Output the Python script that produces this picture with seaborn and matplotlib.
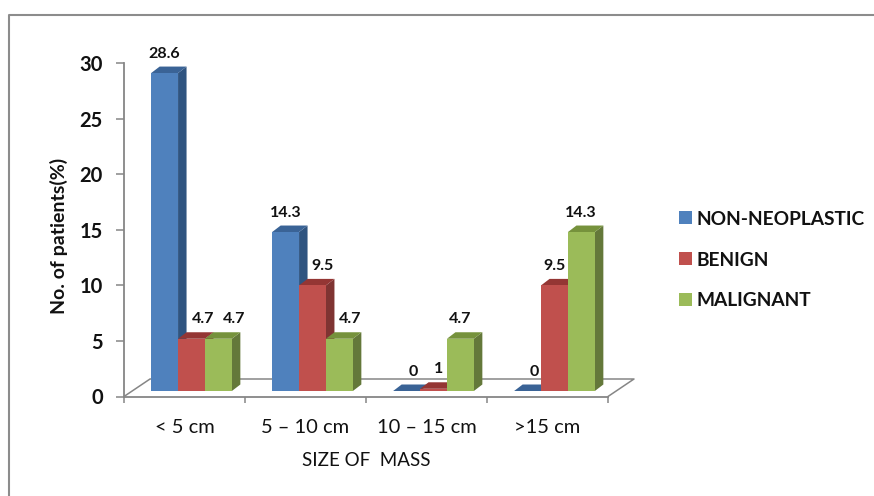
import matplotlib
matplotlib.use('Agg')
import matplotlib.pyplot as plt
from matplotlib.lines import Line2D
from matplotlib.patches import Polygon
import numpy as np
import pandas as pd
import seaborn as sns

sizes = ['< 5 cm', '5 – 10 cm', '10 – 15 cm', '>15 cm']
series = ['NON-NEOPLASTIC', 'BENIGN', 'MALIGNANT']
non_neoplastic = [28.6, 14.3, 0, 0]
benign = [4.7, 9.5, 0.2, 9.5]  # the 10-15 bar is drawn much lower than its label
malignant = [4.7, 4.7, 4.7, 14.3]
non_neoplastic_labels = ['28.6', '14.3', '0', '0']
benign_labels = ['4.7', '9.5', '1', '9.5']
malignant_labels = ['4.7', '4.7', '4.7', '14.3']

front = ['#4F81BD', '#C0504D', '#9BBB59']
side = ['#2F5480', '#7F3432', '#64783A']
top = ['#3A6396', '#943634', '#76923C']
gray = '#868686'

W, H = 874, 496
L, R, B, T = 124, 608, 396.5, 63  # axes box in pixels
px_x = (R - L) / 4
px_y = (B - T) / 30
shift = 7 / px_x  # bars sit on the floor, a bit behind the axis
base = 5.5 / px_y
depth_x = 8.5 / px_x
depth_y = 6.5 / px_y
floor_x = 26 / px_x
floor_y = 17.5 / px_y

# sideways nudge of each label in pixels, same order as the series
label_nudge = [[0, 0, 7, 7], [12, 10, 5, 0], [16, 11, 0, -1]]

df = pd.DataFrame({
    'size': sizes * 3,
    'type': np.repeat(series, 4),
    'pct': non_neoplastic + benign + malignant,
})

sns.set_theme(style='white')
plt.rcParams['font.family'] = ['Lato', 'DejaVu Sans']

fig = plt.figure(figsize=(W / 100, H / 100), dpi=100)
ax = fig.add_axes([L / W, 1 - B / H, (R - L) / W, (B - T) / H])

sns.barplot(data=df, x='size', y='pct', hue='type', palette=front, width=0.667,
            gap=0, saturation=1, ax=ax, linewidth=0, errorbar=None)

ax.set_xlim(-0.5, 3.5)
ax.set_ylim(0, 30)

handles, labels = ax.get_legend_handles_labels()
bars = [p for p in ax.patches if p.get_width() > 0 and p.get_x() > -0.5]
bars = sorted(bars, key=lambda p: p.get_x())
all_labels = [non_neoplastic_labels, benign_labels, malignant_labels]

# fake the 3D look from the bars seaborn drew
for i, p in enumerate(bars):
    g, s = i // 3, i % 3
    x0 = p.get_x() + shift
    x1 = x0 + p.get_width()
    h = p.get_height()
    y0 = base
    y1 = base + h
    p.set_x(x0)
    p.set_y(y0)
    z = 5 + i
    p.set_zorder(z + 0.2)
    ax.add_patch(Polygon([(x1, y0), (x1 + depth_x, y0 + depth_y), (x1 + depth_x, y1 + depth_y), (x1, y1)],
                         fc=side[s], ec='none', zorder=z, clip_on=False))
    ax.add_patch(Polygon([(x0, y1), (x0 + depth_x, y1 + depth_y), (x1 + depth_x, y1 + depth_y), (x1, y1)],
                         fc=top[s], ec='none', zorder=z + 0.1, clip_on=False))
    ax.annotate(all_labels[s][g], (x0 + p.get_width() / 2, y1), xytext=(label_nudge[s][g], 19.5),
                textcoords='offset pixels', ha='center', va='center', fontsize=11.5,
                fontweight='bold', color='#111111', zorder=30, annotation_clip=False)

# floor of the plot
ax.plot([-0.5, -0.5 + floor_x, 3.5 + floor_x, 3.5], [0, floor_y, floor_y, 0],
        color=gray, lw=1.1, zorder=1, clip_on=False)

sns.despine(ax=ax)
for name in ['left', 'bottom']:
    ax.spines[name].set_color(gray)
    ax.spines[name].set_linewidth(1.3)

ax.set_yticks(range(0, 31, 5))
ax.tick_params(axis='y', left=True, length=5.8, width=1.1, color=gray, pad=9.5,
               labelsize=14.5, labelcolor='#111111')
for t in ax.get_yticklabels():
    t.set_fontweight('bold')
ax.set_xticks(range(4))
ax.set_xticklabels(sizes)
ax.set_xticks(np.arange(-0.5, 4), minor=True)
ax.tick_params(axis='x', which='major', bottom=False, length=0, pad=16.5, labelsize=14.5, labelcolor='#111111')
ax.tick_params(axis='x', which='minor', bottom=True, length=4.5, width=1.1, color=gray)

ax.set_xlabel('')
ax.set_ylabel('')
fig.text(59 / W, 1 - 236 / H, 'No. of patients(%)', rotation=90, ha='center', va='center',
         fontsize=14, fontweight='bold', color='#111111')
fig.text(366 / W, 1 - 460 / H, 'SIZE OF  MASS', ha='center', va='center', fontsize=13.5, color='#111111')

ax.legend(handles, labels, loc='center left', bbox_to_anchor=(662 / W, 1 - 260 / H),
          bbox_transform=fig.transFigure, frameon=False, fontsize=13.8, labelspacing=1.25,
          handlelength=0.68, handleheight=0.68, handletextpad=0.2, labelcolor='#111111')
for t in ax.get_legend().get_texts():
    t.set_fontweight('bold')

# picture border, only left and top fall inside the image
fig.add_artist(Line2D([8.5 / W, 8.5 / W, 1], [0, 1 - 14.5 / H, 1 - 14.5 / H], color='#8C8C8C', lw=1.5))

fig.savefig('out.png', dpi=100)
